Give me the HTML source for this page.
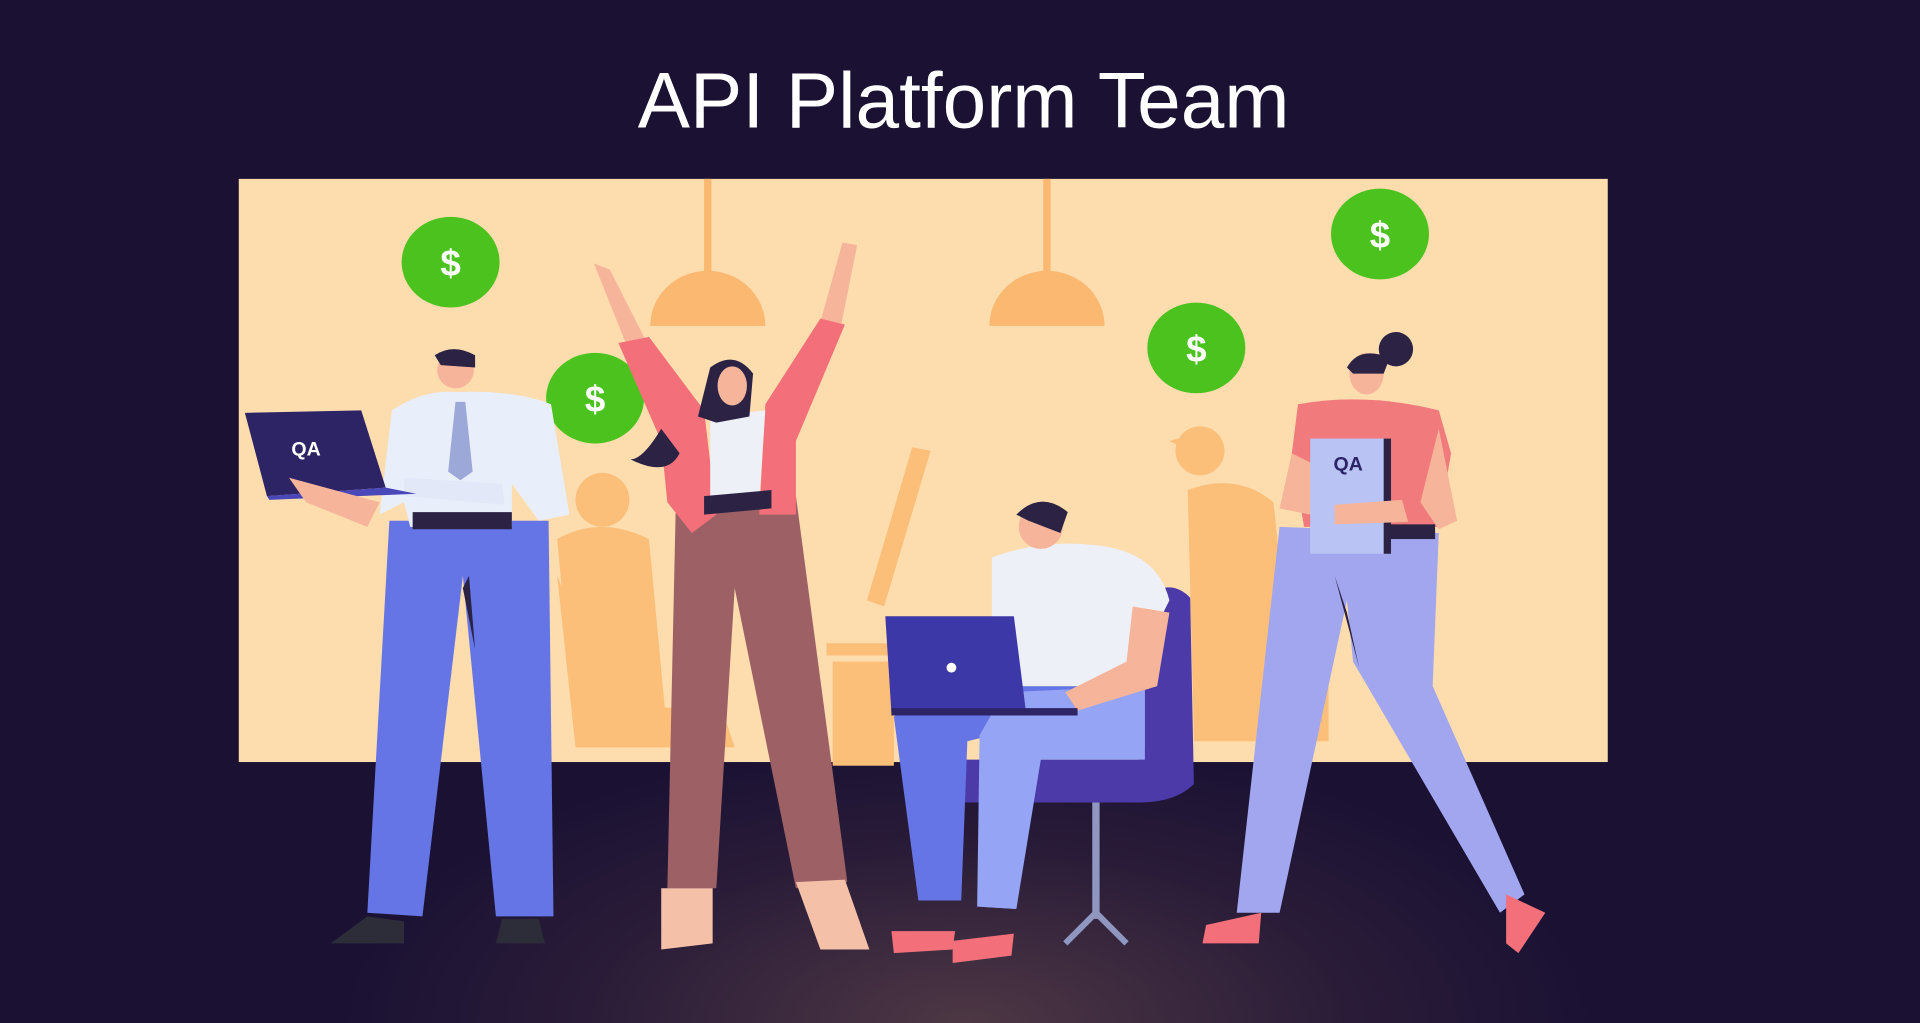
<!DOCTYPE html>
<html><head><meta charset="utf-8"><style>
html,body{margin:0;padding:0;background:#1a1133;overflow:hidden}
svg{display:block}
</style></head><body>
<svg width="1920" height="1023" viewBox="0 0 1568 835" preserveAspectRatio="none" xmlns="http://www.w3.org/2000/svg">
<defs>
<radialGradient id="glow" cx="790" cy="835" r="520" gradientUnits="userSpaceOnUse" gradientTransform="matrix(1 0 0 0.45 0 459)">
<stop offset="0" stop-color="#4d3744"/><stop offset="0.6" stop-color="#2a1c38"/><stop offset="1" stop-color="#1a1133"/>
</radialGradient>
</defs>
<rect width="1568" height="835" fill="#1a1133"/>
<rect x="200" y="622" width="1130" height="213" fill="url(#glow)"/>
<text x="787" y="104" text-anchor="middle" font-family="Liberation Sans, sans-serif" font-size="64" fill="#ffffff" font-weight="300">API Platform Team</text>
<rect x="195" y="146" width="1118" height="476" fill="#fddcae"/>
<!-- lamps -->
<rect x="575" y="146" width="6" height="76" fill="#fbb870"/>
<path d="M531 266 A47 45 0 0 1 625 266 Z" fill="#fbb870"/>
<rect x="852" y="146" width="6" height="76" fill="#fbb870"/>
<path d="M808 266 A47 45 0 0 1 902 266 Z" fill="#fbb870"/>
<!-- bg silhouettes -->
<g fill="#fbbf7a">
<circle cx="492" cy="408" r="22"/><path d="M455 440 Q490 420 530 440 L545 600 L470 600 Z"/>
<path d="M455 470 L470 610 L600 610 L590 580 L500 575 Z"/>
<path d="M708 490 L745 365 L760 368 L722 495 Z"/><rect x="675" y="525" width="60" height="10"/>
<rect x="680" y="540" width="50" height="85"/>
<circle cx="980" cy="368" r="20"/><path d="M955 360 L990 350 L995 380 Z"/>
<path d="M970 400 Q1010 385 1040 410 L1060 600 L975 600 Z"/>
<rect x="975" y="560" width="110" height="45"/>
</g>
<!-- coins -->
<g font-family="Liberation Sans, sans-serif" font-weight="bold" font-size="30" fill="#fff" text-anchor="middle">
<ellipse cx="368" cy="214" rx="40" ry="37" fill="#4cc21f"/><text x="368" y="225">$</text>
<ellipse cx="486" cy="325" rx="40" ry="37" fill="#4cc21f"/><text x="486" y="336">$</text>
<ellipse cx="977" cy="284" rx="40" ry="37" fill="#4cc21f"/><text x="977" y="295">$</text>
<ellipse cx="1127" cy="191" rx="40" ry="37" fill="#4cc21f"/><text x="1127" y="202">$</text>
</g>
<!-- man left -->
<path d="M318 425 L300 745 L345 748 L378 470 L405 748 L452 748 L448 425 Z" fill="#6575e6"/>
<path d="M378 480 L388 530 L383 470 Z" fill="#2b2244"/>
<path d="M270 770 L330 770 L330 752 L300 748 Z" fill="#2d2d3a"/>
<path d="M405 770 L445 770 L440 750 L410 750 Z" fill="#2d2d3a"/>
<path d="M320 335 Q345 318 372 320 Q420 318 450 330 L465 420 L440 425 L418 395 L418 430 L335 430 L330 410 L310 420 Z" fill="#e9eefb"/>
<path d="M337 418 L418 418 L418 432 L337 432 Z" fill="#2b2244"/>
<path d="M372 328 L380 328 L386 385 L376 392 L366 385 Z" fill="#9ca8d8"/>
<circle cx="372" cy="302" r="15" fill="#f6b59a"/>
<path d="M355 290 Q370 280 388 290 L388 300 L360 298 Z" fill="#2b2244"/>
<path d="M330 390 L410 395 L412 412 L330 405 Z" fill="#e2e8f8"/>
<path d="M200 337 L295 335 L315 398 L218 405 Z" fill="#2d2466"/>
<path d="M218 405 L315 398 L340 403 L220 408 Z" fill="#4a47b8"/>
<text x="250" y="372" font-family="Liberation Sans, sans-serif" font-weight="bold" font-size="16" fill="#fff" text-anchor="middle">QA</text>
<path d="M236 390 L250 410 L300 430 L310 410 Z" fill="#f6b59a"/>
<!-- woman center -->
<path d="M552 408 L545 725 L585 725 L600 480 L650 725 L692 720 L650 405 Z" fill="#9c6065"/>
<path d="M540 725 L582 725 L582 770 L540 775 Z" fill="#f5c0a8"/>
<path d="M650 720 L690 718 L710 775 L670 775 Z" fill="#f5c0a8"/>
<path d="M498 220 L485 215 L515 290 L530 283 Z" fill="#f6b59a"/>
<path d="M700 200 L688 198 L668 270 L685 275 Z" fill="#f6b59a"/>
<path d="M505 280 L530 275 L575 335 L585 420 L565 435 L545 410 L540 360 Z" fill="#f3707a"/>
<path d="M690 265 L670 260 L625 330 L620 420 L650 420 L650 360 Z" fill="#f3707a"/>
<path d="M580 340 L625 335 L620 410 L580 412 Z" fill="#eef0f8"/>
<path d="M575 405 L630 400 L630 415 L575 420 Z" fill="#2b2244"/>
<path d="M580 300 Q600 285 615 305 L612 340 L585 345 L570 340 Z" fill="#2b2244"/>
<path d="M540 350 Q525 375 515 375 Q545 390 555 370 Z" fill="#2b2244"/>
<ellipse cx="598" cy="315" rx="12" ry="16" fill="#f6b59a"/>
<!-- chair -->
<rect x="892" y="650" width="6" height="100" fill="#8f96c0"/>
<path d="M870 770 L895 745 L920 770" stroke="#8f96c0" stroke-width="5" fill="none"/>
<path d="M932 490 Q955 470 972 488 L975 640 Q960 655 930 655 L780 655 L780 620 L930 620 Z" fill="#4b3aa8"/>
<!-- sitting man -->
<path d="M730 585 L750 735 L785 735 L790 605 L810 600 L800 740 L830 742 L850 610 L935 610 L935 560 L760 560 Z" fill="#6575e6"/>
<path d="M800 600 L798 740 L830 742 L850 620 L935 620 L935 560 L820 565 Z" fill="#95a4f5"/>
<path d="M728 760 L780 760 L778 775 L730 778 Z" fill="#f3707a"/>
<path d="M778 768 L828 762 L826 780 L778 786 Z" fill="#f3707a"/>
<path d="M810 455 Q850 440 895 445 Q945 450 955 490 L950 500 L930 505 L925 560 L810 560 Z" fill="#eef0f8"/>
<path d="M925 495 L955 500 L945 560 L880 580 L870 565 L920 540 Z" fill="#f6b59a"/>
<circle cx="850" cy="430" r="18" fill="#f6b59a"/>
<path d="M830 420 Q850 400 872 418 L866 435 L840 425 Z" fill="#2b2244"/>
<path d="M723 503 L828 503 L838 582 L728 582 Z" fill="#3d38a8"/>
<rect x="728" y="578" width="152" height="6" fill="#2d2466"/>
<circle cx="777" cy="545" r="4" fill="#fff"/>
<!-- woman right -->
<path d="M1045 430 L1010 745 L1045 745 L1100 490 L1105 540 L1225 745 L1245 730 L1170 560 L1175 435 Z" fill="#a1a6ef"/>
<path d="M1090 470 L1110 545 L1100 500 Z" fill="#2b2244"/>
<path d="M985 755 L1030 745 L1028 770 L982 770 Z" fill="#f3707a"/>
<path d="M1230 730 L1262 745 L1240 778 L1230 770 Z" fill="#f3707a"/>
<path d="M1060 330 Q1115 320 1175 335 L1185 370 L1175 430 L1065 430 L1055 370 Z" fill="#f07a7c"/>
<rect x="1130" y="428" width="42" height="12" fill="#2b2244"/>
<path d="M1175 350 L1190 425 L1175 432 L1160 410 Z" fill="#f6b59a"/>
<path d="M1055 370 L1045 415 L1070 420 L1075 380 Z" fill="#f6b59a"/>
<rect x="1070" y="358" width="62" height="94" fill="#b9c4f5"/>
<rect x="1130" y="358" width="6" height="94" fill="#2b2244"/>
<text x="1101" y="384" font-family="Liberation Sans, sans-serif" font-weight="bold" font-size="16" fill="#2d2466" text-anchor="middle">QA</text>
<path d="M1090 412 L1145 408 L1150 426 L1090 428 Z" fill="#f6b59a"/>
<ellipse cx="1116" cy="305" rx="14" ry="17" fill="#f6b59a"/>
<circle cx="1140" cy="285" r="14" fill="#2b2244"/>
<path d="M1100 300 Q1110 282 1135 292 L1130 305 L1105 305 Z" fill="#2b2244"/>
</svg>
</body></html>
